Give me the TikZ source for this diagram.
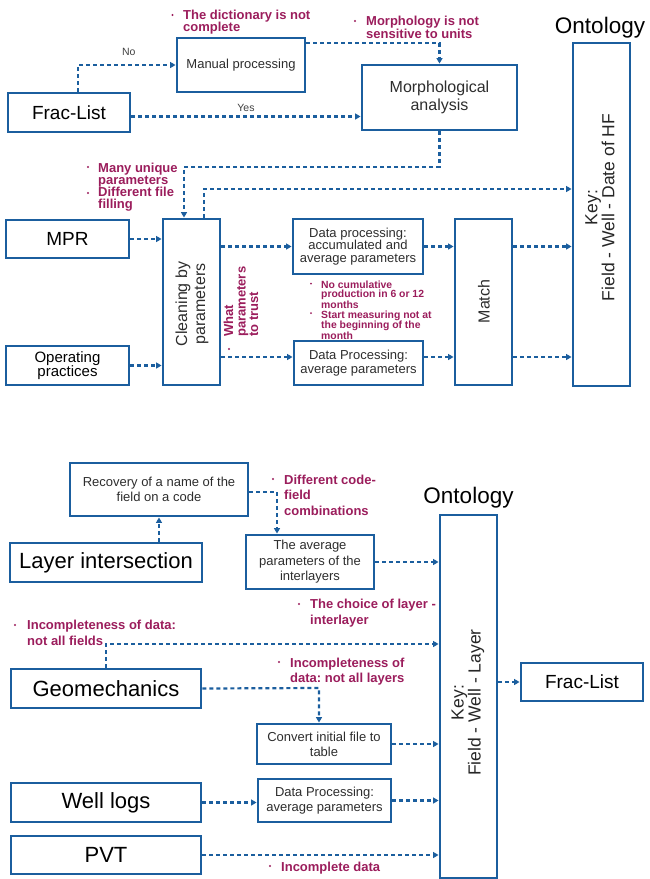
\documentclass[tikz,border=0pt]{standalone}
\usepackage{fontspec}
\setmainfont{Liberation Sans}
\usetikzlibrary{arrows.meta,calc}
\definecolor{lineblue}{RGB}{27,94,158}
\definecolor{annot}{RGB}{155,29,92}
\definecolor{boxtext}{RGB}{45,45,45}
\newcommand\myfs[2]{\fontsize{#1}{#2}\selectfont}
\frenchspacing
\begin{document}
\begin{tikzpicture}[x=1pt,y=-1pt,
  box/.style={draw=lineblue, line width=2.9pt, inner sep=0pt, align=center, text=boxtext},
  bigbox/.style={box, text=black},
  rtext/.style={rotate=90, inner sep=0pt, align=center, text=boxtext},
  arr/.style={lineblue, line width=2.2pt, dash pattern=on 4pt off 3pt, -{Triangle[length=5.5pt,width=6pt]}},
  ann/.style={text=annot, anchor=north west, inner sep=0pt, align=left},
  yn/.style={text=black!75, inner sep=0pt, font=\myfs{10.5}{12}}
]
\useasboundingbox (0,0) rectangle (650,879);

% ---------------- top part ----------------
\node[bigbox, minimum width=122pt, minimum height=39pt, font=\myfs{19}{22}] (frac1) at (69,112.5) {Frac-List};
\node[box, minimum width=128pt, minimum height=54pt, font=\myfs{13}{15}] (manual) at (241,65) {Manual processing};
\node[box, minimum width=155pt, minimum height=65pt, font=\myfs{16}{18}] (morph) at (439.5,97.5) {Morphological\\analysis};
\node[box, minimum width=57pt, minimum height=343pt] (onto1) at (601.5,214.5) {};
\node[rtext, text=black!85, font=\myfs{17.5}{17}] (onto1t) at (600,207.5) {Key:\\Field - Well - Date of HF};
\node[inner sep=0pt, anchor=base, font=\myfs{22.5}{24}] (onto1h) at (600,33) {Ontology};

\node[bigbox, minimum width=123pt, minimum height=38pt, font=\myfs{19}{22}] (mpr) at (67.5,239) {MPR};
\node[bigbox, minimum width=123pt, minimum height=39pt, font=\myfs{15}{14}] (oper) at (67.5,365.5) {Operating\\practices};
\node[box, minimum width=57pt, minimum height=166pt] (clean) at (191.5,302) {};
\node[rtext, font=\myfs{16}{18}] (cleant) at (192,304) {Cleaning by\\parameters};
\node[box, minimum width=130pt, minimum height=55pt, font=\myfs{13}{12.7}] (dp1) at (358,246.5) {Data processing:\\accumulated and\\average parameters};
\node[box, minimum width=129pt, minimum height=44pt, font=\myfs{13}{13.3}] (dp2) at (358.5,363) {Data Processing:\\average parameters};
\node[box, minimum width=57pt, minimum height=166pt] (match) at (483.5,302) {};
\node[rtext, font=\myfs{16}{18}] (matcht) at (484,301.5) {Match};

% connectors top
\draw[arr] ([xshift=9pt]frac1.north) |- (manual.west) node[yn, pos=0.76, yshift=13pt] (nolab) {No};
\coordinate (yesy) at ([yshift=-4pt]frac1.east);
\draw[arr] (yesy) -- (yesy -| morph.west) node[yn, midway, yshift=9pt] (yeslab) {Yes};
\coordinate (m1) at ([yshift=22pt]manual.east);
\draw[arr] (m1) -| (morph.north);
\coordinate (k1) at (184,167);
\draw[arr] (morph.south) |- (k1) -- (k1 |- clean.north);
\coordinate (k2) at (204,189);
\draw[arr] (k2 |- clean.north) -- (k2) -- (k2 -| onto1.west);
\draw[arr] (mpr.east) -- (mpr.east -| clean.west);
\draw[arr] (oper.east) -- (oper.east -| clean.west);
\draw[arr] (dp1.west -| clean.east) -- (dp1.west);
\coordinate (r2) at ([yshift=6pt]dp2.west);
\coordinate (r2e) at ([yshift=6pt]dp2.east);
\draw[arr] (r2 -| clean.east) -- (r2);
\draw[arr] (dp1.east) -- (dp1.east -| match.west);
\draw[arr] (r2e) -- (r2e -| match.west);
\draw[arr] (dp1.east -| match.east) -- (dp1.east -| onto1.west);
\draw[arr] (r2e -| match.east) -- (r2e -| onto1.west);

% annotations top
\fill[annot] (172.5,15) circle (1.1pt);
\node[ann, font=\bfseries\myfs{13}{12.5}] (a1) at (183,9.5) {The dictionary is not\\complete};
\fill[annot] (355,21) circle (1.1pt);
\node[ann, font=\bfseries\myfs{13}{12}] (a2) at (366,15.5) {Morphology is not\\sensitive to units};
\fill[annot] (88,167) circle (1.1pt);
\fill[annot] (88,193) circle (1.1pt);
\node[ann, font=\bfseries\myfs{13}{12.2}] (a3) at (98,162.5) {Many unique\\parameters\\Different file\\filling};
\fill[annot] (229,349) circle (1.1pt);
\node[ann, rotate=90, font=\bfseries\myfs{13}{12.5}] (a4) at (223.5,337) {What\\parameters\\to trust};
\fill[annot] (311,283.5) circle (1pt);
\fill[annot] (311,313) circle (1pt);
\node[ann, font=\bfseries\myfs{10.4}{9.6}] (a5) at (321,280.5) {No cumulative\\production in 6 or 12\\months\\Start measuring not at\\the beginning of the\\month};

% ---------------- bottom part ----------------
\node[box, minimum width=178pt, minimum height=53pt, font=\myfs{13}{15}] (recov) at (159,489.5) {Recovery of a name of the\\field on a code};
\node[bigbox, minimum width=192pt, minimum height=39pt, font=\myfs{22}{24}] (layer) at (106,562.5) {Layer intersection};
\node[box, minimum width=128pt, minimum height=54pt, font=\myfs{13}{15.5}] (avgint) at (310,562) {The average\\parameters of the\\interlayers};
\node[box, minimum width=57pt, minimum height=363pt] (onto2) at (468.5,696.5) {};
\node[rtext, text=black!85, font=\myfs{17.5}{17}] (onto2t) at (468,702.5) {Key:\\Field - Well - Layer};
\node[inner sep=0pt, anchor=base, font=\myfs{22.5}{24}] (onto2h) at (468.5,503) {Ontology};
\node[bigbox, minimum width=190pt, minimum height=39pt, font=\myfs{22}{24}] (geo) at (106,688.5) {Geomechanics};
\node[box, minimum width=134pt, minimum height=40pt, font=\myfs{13}{15.3}] (conv) at (324,744) {Convert initial file to\\table};
\node[bigbox, minimum width=190pt, minimum height=39pt, font=\myfs{22}{24}] (well) at (106,802.5) {Well logs};
\node[box, minimum width=133pt, minimum height=43pt, font=\myfs{13}{14.3}] (dp3) at (324.5,800.5) {Data Processing:\\average parameters};
\node[bigbox, minimum width=190pt, minimum height=38pt, font=\myfs{22}{24}] (pvt) at (106,855) {PVT};
\node[bigbox, minimum width=122pt, minimum height=38pt, font=\myfs{19}{22}] (frac2) at (582,682) {Frac-List};

% connectors bottom
\draw[arr] (layer.north -| recov.south) -- (recov.south);
\coordinate (k3) at (277,492);
\draw[arr] (k3 -| recov.east) -- (k3) -- (k3 |- avgint.north);
\draw[arr] (avgint.east) -- (avgint.east -| onto2.west);
\coordinate (k4) at (106,644);
\draw[arr] (geo.north) -- (k4) -- (k4 -| onto2.west);
\coordinate (k5) at (319,688);
\draw[arr] (geo.east) -- (k5) -- (k5 |- conv.north);
\draw[arr] (conv.east) -- (conv.east -| onto2.west);
\draw[arr] (well.east) -- (well.east -| dp3.west);
\draw[arr] (dp3.east) -- (dp3.east -| onto2.west);
\draw[arr] (pvt.east) -- (pvt.east -| onto2.west);
\draw[arr] (frac2.west -| onto2.east) -- (frac2.west);

% annotations bottom
\fill[annot] (273,479) circle (1.1pt);
\node[ann, font=\bfseries\myfs{13}{15.5}] (b1) at (284,474.5) {Different code-\\field\\combinations};
\fill[annot] (299,604) circle (1.1pt);
\node[ann, font=\bfseries\myfs{13}{16}] (b2) at (310,598.5) {The choice of layer -\\interlayer};
\fill[annot] (15,625) circle (1.1pt);
\node[ann, font=\bfseries\myfs{13}{16}] (b3) at (27,619.5) {Incompleteness of data:\\not all fields};
\fill[annot] (279,662) circle (1.1pt);
\node[ann, font=\bfseries\myfs{13}{15}] (b4) at (290,657.5) {Incompleteness of\\data: not all layers};
\fill[annot] (270,866) circle (1.1pt);
\node[ann, font=\bfseries\myfs{13}{15}] (b5) at (281,861.5) {Incomplete data};
\end{tikzpicture}
\end{document}
